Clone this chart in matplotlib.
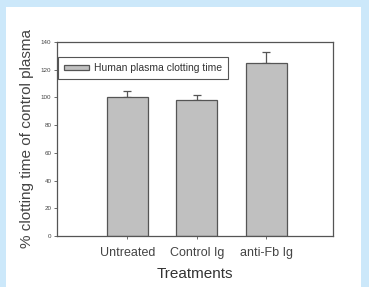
import matplotlib
matplotlib.use("Agg")
import matplotlib.pyplot as plt
import matplotlib.patches as mpatches

plt.rcParams['font.family'] = ['Liberation Sans', 'DejaVu Sans']

# data
treatments = ['Untreated', 'Control Ig', 'anti-Fb Ig']
clotting_pct = [100, 98.5, 125]
err_up = [5, 3, 7.5]
yticks = [0, 20, 40, 60, 80, 100, 120, 140]

bar_color = '#c0c0c0'
edge_color = '#555555'
text_color = '#444444'

fig = plt.figure(figsize=(3.69, 2.87), dpi=100, facecolor='white')
# light blue frame around the panel
fig.patches.append(mpatches.Rectangle((0, 0), 1, 1, transform=fig.transFigure,
                                      facecolor='#cce8fa', edgecolor='none', zorder=-2))
fig.patches.append(mpatches.Rectangle((6 / 369, 0), (361 - 6) / 369, (287 - 7) / 287,
                                      transform=fig.transFigure, facecolor='white',
                                      edgecolor='none', zorder=-1))

ax = fig.add_axes([57 / 369, 51 / 287, 276 / 369, 194 / 287])
x = range(len(treatments))
ax.bar(x, clotting_pct, width=0.59, color=bar_color, edgecolor=edge_color, linewidth=0.9,
       label='Human plasma clotting time', zorder=2)
ax.errorbar(x, clotting_pct, yerr=[[0] * len(err_up), err_up], fmt='none',
            ecolor=edge_color, elinewidth=0.9, capsize=2.9, capthick=0.9, zorder=1)

ax.set_xlim(-1.01, 2.96)
ax.set_ylim(0, 140)
ax.set_yticks(yticks)
ax.set_xticks(list(x))
ax.set_xticklabels(treatments, fontsize=9, color=text_color)
ax.tick_params(axis='y', labelsize=4.5, labelcolor=text_color, length=2, width=0.6,
               color=edge_color, pad=2)
ax.tick_params(axis='x', length=2, width=0.6, color=edge_color, pad=6)
for s in ax.spines.values():
    s.set_color(edge_color)
    s.set_linewidth(0.9)

ax.set_xlabel('Treatments', fontsize=11, color='#333333', labelpad=6)
ax.set_ylabel('% clotting time of control plasma', fontsize=11, color=text_color, labelpad=5)

leg = ax.legend(loc='upper left', bbox_to_anchor=(0.004, 0.923), borderaxespad=0,
                fontsize=7.5, handlelength=2.4, handleheight=0.35, fancybox=False,
                framealpha=1, edgecolor=edge_color, borderpad=0.6, handletextpad=0.4)
leg.get_frame().set_linewidth(0.8)
for t in leg.get_texts():
    t.set_color('#333333')

fig.savefig('out.png', dpi=100, facecolor=fig.get_facecolor())
